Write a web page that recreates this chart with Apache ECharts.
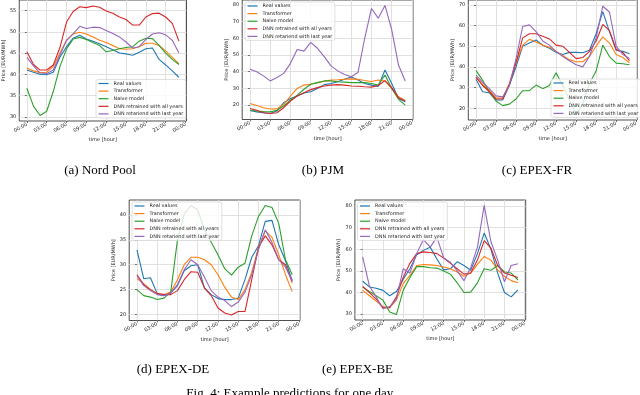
<!DOCTYPE html>
<html>
<head>
<meta charset="utf-8">
<script src="https://cdn.jsdelivr.net/npm/echarts@6/dist/echarts.min.js"></script>
<style>
  html, body { margin: 0; padding: 0; background: #fff; }
  #chart { width: 640px; height: 395px; }
</style>
</head>
<body>
<div id="chart"></div>
<script>
// hour of day for every point
var hours = [0, 1, 2, 3, 4, 5, 6, 7, 8, 9, 10, 11, 12, 13, 14, 15, 16, 17, 18, 19, 20, 21, 22, 23]
var hourTicks = [0, 3, 6, 9, 12, 15, 18, 21, 24]
var seriesNames = ['Real values', 'Transformer', 'Naive model', 'DNN retrained with all years', 'DNN retariend with last year']
var colors = ['#1f77b4', '#ff7f0e', '#2ca02c', '#d62728', '#9467bd']

// (a) Nord Pool
var nordReal = [41.0, 40.5, 40.0, 39.9, 40.5, 44.0, 46.5, 48.5, 49.2, 48.3, 47.8, 47.2, 46.5, 45.8, 45.0, 44.8, 44.5, 45.2, 46.0, 46.2, 43.5, 42.2, 40.8, 39.3]
var nordTrans = [41.5, 40.8, 40.4, 40.5, 41.8, 45.0, 48.0, 49.5, 49.9, 49.5, 48.8, 48.0, 47.5, 46.8, 46.0, 45.9, 46.0, 46.5, 47.3, 47.3, 46.8, 45.5, 44.0, 42.5]
var nordNaive = [36.7, 32.5, 30.3, 31.3, 36.0, 41.8, 46.0, 48.3, 48.7, 48.2, 47.5, 46.8, 45.3, 45.6, 46.0, 46.3, 46.5, 47.8, 48.5, 48.4, 46.8, 45.0, 43.5, 42.3]
var nordAll = [45.3, 42.3, 41.0, 41.0, 42.2, 46.3, 52.3, 54.8, 55.9, 55.7, 56.1, 55.8, 54.9, 54.4, 53.5, 52.9, 51.6, 51.6, 53.5, 54.3, 54.4, 53.5, 52.0, 47.8]
var nordLast = [44.0, 42.0, 40.3, 40.2, 41.0, 44.5, 48.0, 49.5, 51.3, 50.8, 51.1, 51.0, 50.3, 49.6, 48.8, 47.6, 46.2, 46.5, 48.2, 49.5, 49.8, 49.3, 48.0, 45.0]
var nordTicks = [30, 35, 40, 45, 50, 55]

// (b) PJM
var pjmReal = [16.8, 16.0, 15.5, 15.0, 16.5, 21.5, 24.0, 25.5, 27.3, 28.0, 30.0, 32.3, 33.0, 34.0, 35.5, 36.8, 35.0, 33.0, 32.0, 31.2, 41.0, 33.0, 24.0, 22.0]
var pjmTrans = [21.0, 19.8, 18.5, 17.7, 17.8, 20.5, 25.5, 30.0, 32.0, 32.5, 33.5, 34.3, 35.0, 35.2, 35.5, 35.7, 35.5, 34.8, 34.2, 35.0, 34.5, 30.0, 25.0, 22.8]
var pjmNaive = [17.0, 16.5, 16.2, 16.0, 17.0, 19.5, 23.0, 26.0, 29.5, 32.5, 33.5, 34.5, 34.5, 34.0, 33.8, 33.5, 33.5, 33.5, 33.0, 32.0, 38.0, 30.0, 23.5, 20.0]
var pjmAll = [18.0, 17.0, 15.5, 15.0, 15.5, 18.5, 22.5, 25.5, 27.5, 29.3, 30.5, 31.5, 32.0, 32.3, 32.0, 31.5, 31.3, 31.0, 30.8, 31.8, 34.7, 30.5, 24.5, 22.5]
var pjmLast = [41.5, 40.0, 37.5, 34.5, 36.5, 39.0, 45.0, 53.3, 52.3, 57.5, 54.0, 49.0, 43.5, 40.5, 38.3, 37.0, 39.5, 60.0, 77.8, 72.0, 79.6, 65.0, 44.0, 34.5]
var pjmTicks = [20, 30, 40, 50, 60, 70, 80]

// (c) EPEX-FR
var frReal = [34.0, 28.0, 27.5, 24.0, 24.0, 31.0, 40.0, 50.0, 51.5, 53.0, 50.5, 49.0, 47.0, 46.0, 47.0, 47.0, 46.8, 48.0, 56.0, 66.7, 57.0, 48.0, 47.5, 46.3]
var frTrans = [35.0, 31.5, 28.5, 25.0, 25.0, 32.0, 42.0, 50.5, 53.3, 52.0, 50.5, 49.5, 47.5, 45.5, 43.5, 42.5, 42.5, 45.0, 50.0, 54.5, 51.5, 46.0, 44.5, 42.0]
var frNaive = [38.3, 33.5, 28.0, 23.5, 21.3, 22.0, 24.5, 28.5, 28.5, 31.2, 29.5, 31.0, 37.2, 31.0, 24.0, 17.0, 22.0, 32.0, 38.0, 50.5, 45.0, 41.8, 41.5, 41.0]
var frAll = [35.0, 31.0, 28.0, 24.5, 24.5, 31.5, 42.0, 54.0, 56.0, 56.0, 54.8, 53.5, 50.5, 50.0, 47.0, 44.0, 44.5, 47.5, 52.5, 60.5, 57.5, 48.5, 47.0, 43.0]
var frLast = [36.0, 32.5, 29.5, 26.0, 25.5, 31.0, 44.0, 59.5, 60.3, 57.0, 52.5, 50.5, 47.5, 45.0, 43.0, 41.0, 40.0, 45.0, 54.0, 69.3, 66.5, 50.0, 46.0, 44.0]
var frTicks = [20, 30, 40, 50, 60, 70]

// (d) EPEX-DE
var deReal = [33.0, 27.2, 27.4, 24.2, 23.8, 24.3, 25.8, 28.8, 29.8, 30.0, 25.3, 24.0, 23.2, 23.0, 23.0, 23.3, 27.0, 31.5, 33.8, 38.7, 38.9, 34.0, 30.8, 26.8]
var deTrans = [27.2, 26.2, 25.0, 24.2, 24.0, 24.5, 27.0, 30.0, 31.5, 31.5, 31.0, 30.0, 28.0, 25.5, 23.5, 23.0, 25.0, 28.5, 33.5, 36.8, 35.5, 32.0, 28.0, 24.6]
var deNaive = [25.0, 23.8, 23.5, 23.0, 23.3, 24.5, 35.0, 40.2, 41.9, 41.0, 37.0, 34.5, 32.0, 29.2, 27.9, 29.5, 30.3, 35.8, 39.7, 41.9, 41.5, 38.3, 31.0, 28.0]
var deAll = [28.0, 26.0, 25.0, 24.2, 24.0, 24.0, 24.8, 27.0, 28.6, 28.5, 25.3, 23.8, 21.3, 20.3, 19.9, 20.6, 20.6, 27.0, 33.5, 35.8, 34.0, 31.0, 30.0, 26.4]
var deLast = [27.8, 25.8, 24.8, 24.0, 23.8, 24.3, 26.0, 29.0, 31.0, 30.0, 27.5, 24.8, 23.5, 22.8, 21.6, 22.5, 24.5, 28.0, 33.0, 37.0, 34.5, 31.0, 29.5, 26.8]
var deTicks = [20, 25, 30, 35, 40]

// (e) EPEX-BE
var beReal = [45.2, 42.6, 42.0, 41.0, 38.5, 40.5, 46.0, 51.0, 57.5, 59.5, 61.0, 55.5, 50.5, 51.0, 54.2, 52.5, 50.3, 58.0, 67.5, 60.0, 49.0, 40.0, 38.0, 41.2]
var beTrans = [41.0, 38.5, 36.0, 33.5, 33.0, 36.5, 44.0, 48.0, 52.5, 53.0, 52.8, 52.5, 51.8, 51.0, 49.5, 47.5, 49.0, 53.0, 56.7, 55.0, 50.5, 47.5, 45.5, 44.5]
var beNaive = [42.5, 40.5, 38.5, 36.5, 31.0, 29.8, 41.0, 47.0, 52.0, 52.0, 51.5, 51.3, 50.0, 48.5, 44.5, 40.0, 40.2, 44.5, 51.0, 50.3, 52.5, 49.5, 49.0, 45.8]
var beAll = [42.8, 40.0, 37.0, 33.0, 33.0, 38.0, 47.0, 53.5, 58.0, 58.8, 58.5, 58.0, 56.0, 53.5, 51.0, 48.5, 49.0, 55.0, 64.0, 60.5, 52.5, 49.0, 48.0, 47.0]
var beLast = [56.5, 43.0, 38.0, 32.5, 33.5, 37.0, 51.0, 49.0, 58.0, 64.5, 61.0, 65.5, 56.0, 54.0, 50.0, 45.5, 51.5, 61.0, 80.3, 63.5, 55.0, 45.0, 52.5, 53.3]
var beTicks = [30, 40, 50, 60, 70, 80]

var sans = 'DejaVu Sans'
var serif = 'Liberation Serif'

var panels = [
  { lines: [nordReal, nordTrans, nordNaive, nordAll, nordLast], ticks: nordTicks, yMin: 29.0, yMax: 57.5,
    grid: { left: 15.7, top: 0, width: 170.8, height: 121 }, legend: { left: 96, top: 79.5 },
    caption: '(a) Nord Pool', capX: 100, capY: 171 },
  { lines: [pjmReal, pjmTrans, pjmNaive, pjmAll, pjmLast], ticks: pjmTicks, yMin: 11.45, yMax: 82.85,
    grid: { left: 242.2, top: 0, width: 170.8, height: 119.5 }, legend: { left: 245, top: 2 },
    caption: '(b) PJM', capX: 323, capY: 171 },
  { lines: [frReal, frTrans, frNaive, frAll, frLast], ticks: frTicks, yMin: 14.35, yMax: 72.3,
    grid: { left: 468.3, top: 0, width: 170.8, height: 120 }, legend: { left: 551, top: 79 },
    caption: '(c) EPEX-FR', capX: 537, capY: 171 },
  { lines: [deReal, deTrans, deNaive, deAll, deLast], ticks: deTicks, yMin: 18.8, yMax: 43.0,
    grid: { left: 129.2, top: 200, width: 170.8, height: 120.5 }, legend: { left: 132, top: 202 },
    caption: '(d) EPEX-DE', capX: 173, capY: 370 },
  { lines: [beReal, beTrans, beNaive, beAll, beLast], ticks: beTicks, yMin: 27.3, yMax: 82.8,
    grid: { left: 354.9, top: 200, width: 170.8, height: 120 }, legend: { left: 357.5, top: 202 },
    caption: '(e) EPEX-BE', capX: 357.5, capY: 370 }
]

function hourLabel(v) {
  var h = v % 24
  return (h < 10 ? '0' : '') + h + ':00'
}

var option = {
  animation: false,
  backgroundColor: '#fff',
  grid: [],
  xAxis: [],
  yAxis: [],
  legend: [],
  series: [],
  graphic: []
}

panels.forEach(function(p, i) {
  option.grid.push({
    left: p.grid.left, top: p.grid.top, width: p.grid.width, height: p.grid.height,
    show: true, borderColor: '#222', borderWidth: 0.8
  })
  option.xAxis.push({
    type: 'value', gridIndex: i, min: -1.15, max: 24.15,
    name: 'time [hour]', nameLocation: 'middle', nameGap: 16.5,
    nameTextStyle: { fontFamily: sans, fontSize: 5, color: '#222' },
    axisLine: { show: false },
    axisTick: { show: true, customValues: hourTicks, length: 2, lineStyle: { color: '#222', width: 0.6 } },
    axisLabel: { customValues: hourTicks, rotate: 30, margin: 3, fontFamily: sans, fontSize: 5, color: '#222', formatter: hourLabel },
    splitLine: { show: true, lineStyle: { color: '#dcdcdc', width: 0.9 } }
  })
  option.yAxis.push({
    type: 'value', gridIndex: i, min: p.yMin, max: p.yMax,
    name: 'Price [EUR/MWh]', nameLocation: 'middle', nameRotate: 90, nameGap: 12,
    nameTextStyle: { fontFamily: sans, fontSize: 5, color: '#222' },
    axisLine: { show: false },
    axisTick: { show: true, customValues: p.ticks, length: 2, lineStyle: { color: '#222', width: 0.6 } },
    axisLabel: { customValues: p.ticks, margin: 3, fontFamily: sans, fontSize: 5, color: '#222' },
    splitLine: { show: true, lineStyle: { color: '#dcdcdc', width: 0.9 } }
  })
  option.legend.push({
    orient: 'vertical', left: p.legend.left, top: p.legend.top,
    data: seriesNames, selectedMode: false,
    icon: 'rect', itemWidth: 10, itemHeight: 1.2, itemGap: 2.6,
    padding: [1.5, 2.5, 1.5, 2.5],
    backgroundColor: 'rgba(255,255,255,0.8)', borderColor: '#d4d4d4', borderWidth: 0.7, borderRadius: 2,
    textStyle: { fontFamily: sans, fontSize: 4.9, lineHeight: 5, color: '#222' }
  })
  p.lines.forEach(function(values, k) {
    option.series.push({
      type: 'line', name: seriesNames[k], xAxisIndex: i, yAxisIndex: i,
      data: hours.map(function(h, j) { return [h, values[j]] }),
      symbol: 'none', color: colors[k],
      lineStyle: { width: 1.1, color: colors[k] }
    })
  })
  option.graphic.push({
    type: 'text', x: p.capX, y: p.capY,
    style: { text: p.caption, fontFamily: serif, fontSize: 13, fill: '#000',
      align: 'center', verticalAlign: 'middle', textAlign: 'center', textVerticalAlign: 'middle' }
  })
})

option.graphic.push({
  type: 'text', x: 291, y: 394,
  style: { text: 'Fig. 4: Example predictions for one day.', fontFamily: serif, fontSize: 13, fill: '#000',
    align: 'center', verticalAlign: 'middle', textAlign: 'center', textVerticalAlign: 'middle' }
})

var chart = echarts.init(document.getElementById('chart'))
chart.setOption(option)
</script>
</body>
</html>
